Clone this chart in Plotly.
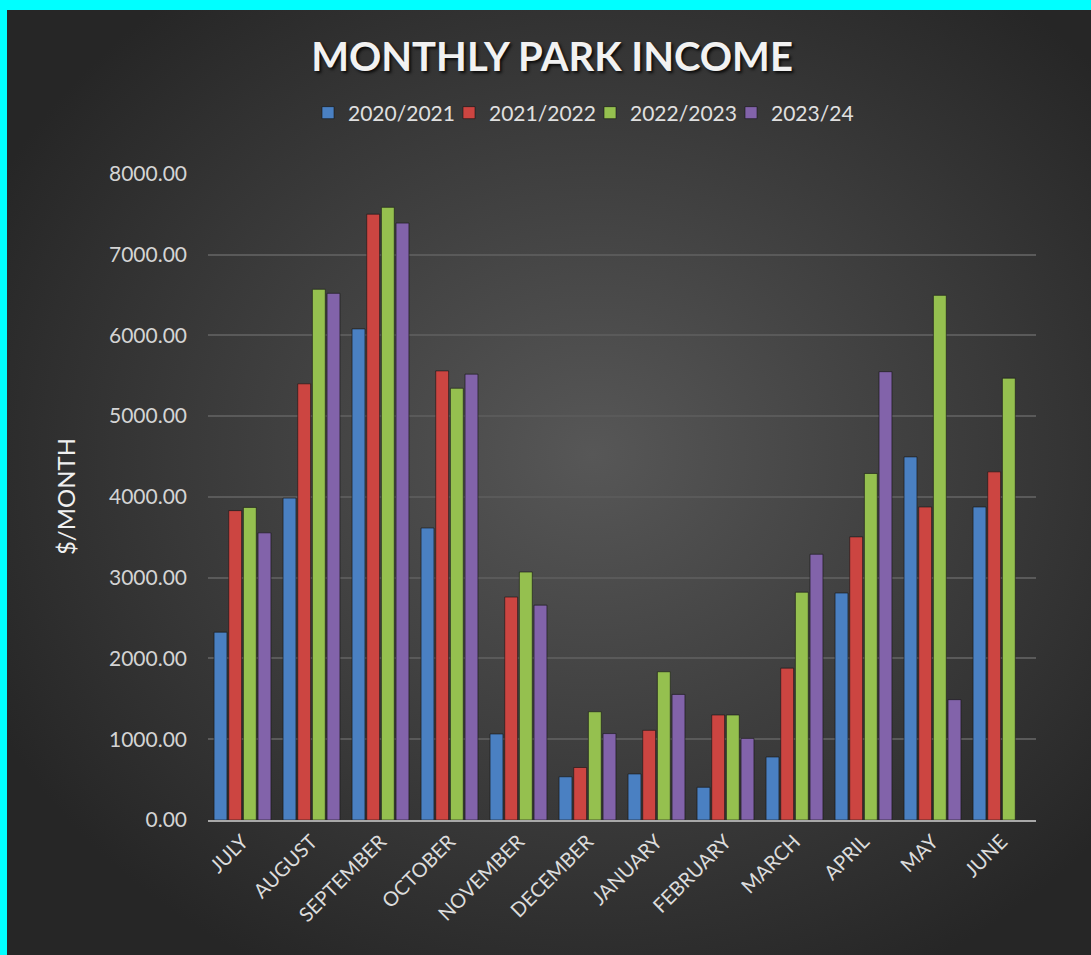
import base64
import plotly.graph_objects as go

months = ["JULY", "AUGUST", "SEPTEMBER", "OCTOBER", "NOVEMBER", "DECEMBER",
          "JANUARY", "FEBRUARY", "MARCH", "APRIL", "MAY", "JUNE"]
s2020_21 = [2325, 3985, 6080, 3615, 1065, 535, 570, 405, 780, 2810, 4495, 3875]
s2021_22 = [3830, 5400, 7500, 5560, 2760, 650, 1110, 1300, 1880, 3505, 3875, 4310]
s2022_23 = [3870, 6570, 7585, 5345, 3070, 1340, 1835, 1300, 2820, 4290, 6495, 5470]
s2023_24 = [3555, 6520, 7390, 5520, 2660, 1070, 1555, 1010, 3290, 5550, 1490, None]

series_names = ["2020/2021", "2021/2022", "2022/2023", "2023/24"]
series_vals = [s2020_21, s2021_22, s2022_23, s2023_24]
colors = ["#4a80c2", "#cc4541", "#95c04f", "#8263aa"]

W, H = 1091, 955
L, R, T, B = 208, 1036, 173, 820

fig = go.Figure()
for name, vals, c in zip(series_names, series_vals, colors):
    fig.add_trace(go.Bar(
        name=name, x=months, y=vals,
        marker=dict(color=c, line=dict(color="rgba(20,20,20,0.6)", width=1)),
    ))

# radial gradient background as svg image
svg = f'''<svg xmlns="http://www.w3.org/2000/svg" width="{W-7}" height="{H-10}" viewBox="0 0 {W-7} {H-10}">
<defs><radialGradient id="g" cx="0.54" cy="0.47" r="0.62" gradientUnits="objectBoundingBox">
<stop offset="0" stop-color="#575757"/><stop offset="0.55" stop-color="#3c3c3c"/><stop offset="1" stop-color="#262626"/>
</radialGradient></defs>
<rect width="100%" height="100%" fill="url(#g)"/></svg>'''
src = "data:image/svg+xml;base64," + base64.b64encode(svg.encode()).decode()

pw, ph = R - L, B - T
fig.add_layout_image(dict(
    source=src, xref="paper", yref="paper",
    x=(7 - L) / pw, y=(B - 10) / ph,
    sizex=(W - 7) / pw, sizey=(H - 10) / ph,
    xanchor="left", yanchor="top", sizing="stretch", layer="below",
))

fig.update_layout(
    width=W, height=H,
    paper_bgcolor="#00ffff", plot_bgcolor="rgba(0,0,0,0)",
    margin=dict(l=L, r=W - R, t=T, b=H - B, autoexpand=False),
    barmode="group", bargap=0.15, bargroupgap=0.12,
    font=dict(family="Lato, Open Sans, sans-serif", color="#d9d9d9"),
    title=dict(text="MONTHLY PARK INCOME", x=0.506, xanchor="center",
               y=1 - 57 / H, yanchor="middle",
               font=dict(size=40, color="#f2f2f2", weight="bold",
                         shadow="2px 2px 3px rgba(0,0,0,0.8)")),
    legend=dict(orientation="h", x=590 / W, xanchor="center", xref="container",
                y=1 - 113 / H, yanchor="middle", yref="container",
                font=dict(size=21, color="#e0e0e0"),
                itemwidth=30, entrywidth=96, entrywidthmode="pixels",
                traceorder="normal", bgcolor="rgba(0,0,0,0)"),
    yaxis=dict(range=[0, 8010], dtick=1000, tickformat=".2f",
               gridcolor="#5a5a5a", gridwidth=1.5, zeroline=False,
               tickfont=dict(size=21, color="#d4d4d4"), ticks="", ticklabelstandoff=20,
               title=dict(text="$/MONTH", font=dict(size=24, color="#f0f0f0"), standoff=26),
               showline=False),
    xaxis=dict(tickangle=-45, tickfont=dict(size=20, color="#dcdcdc"),
               showline=True, linecolor="#a8a8a8", linewidth=2, ticks="",
               showgrid=False),
    showlegend=True,
)

fig.write_html("out.html", config={"displayModeBar": False},
               post_script="document.body.style.margin='0';document.body.style.overflow='hidden';")
